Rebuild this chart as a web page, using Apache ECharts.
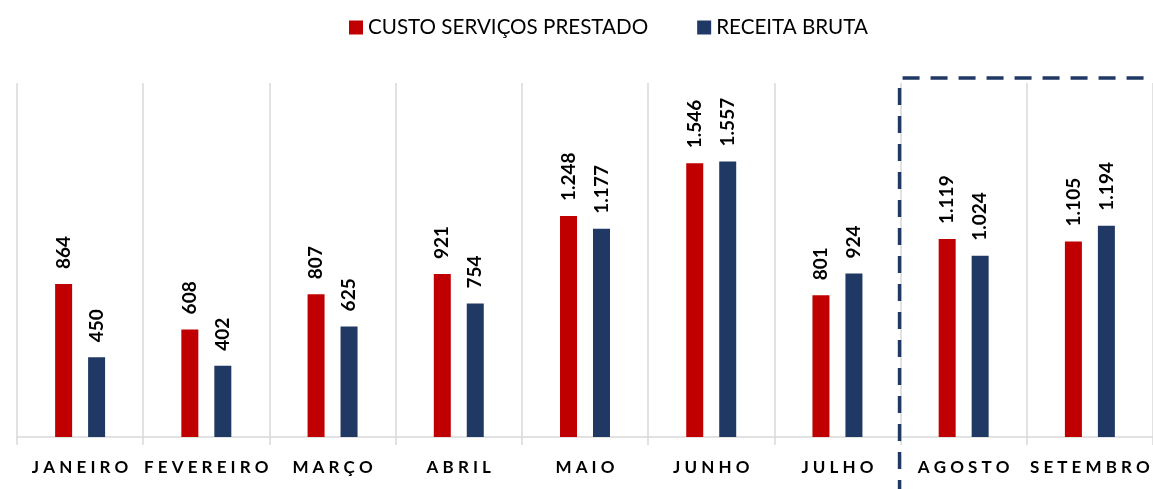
<!DOCTYPE html>
<html>
<head>
<meta charset="utf-8">
<script src="https://cdn.jsdelivr.net/npm/echarts@6/dist/echarts.min.js"></script>
<style>
  html, body { margin: 0; padding: 0; background: #fff; }
  #chart { width: 1153px; height: 489px; }
</style>
</head>
<body>
<div id="chart"></div>
<script>
const months = ['JANEIRO', 'FEVEREIRO', 'MARÇO', 'ABRIL', 'MAIO', 'JUNHO', 'JULHO', 'AGOSTO', 'SETEMBRO']
const custo = [864, 608, 807, 921, 1248, 1546, 801, 1119, 1105]
const receita = [450, 402, 625, 754, 1177, 1557, 924, 1024, 1194]
const yMax = 2000

const RED = '#c00000'
const NAVY = '#203864'
const GRID = '#d9d9d9'

// 1.248 style thousands separator
function fmt(v) {
  return String(v).replace(/\B(?=(\d{3})+(?!\d))/g, '.')
}

const chart = echarts.init(document.getElementById('chart'))

const labelStyle = {
  show: true,
  position: 'top',
  rotate: 90,
  align: 'left',
  verticalAlign: 'middle',
  distance: 15,
  fontFamily: 'Lato',
  fontWeight: 'bold',
  fontSize: 19,
  color: '#000',
  formatter: p => fmt(p.value)
}

chart.setOption({
  animation: false,
  color: [RED, NAVY],
  textStyle: { fontFamily: 'Lato' },
  legend: {
    top: 12,
    left: 344,
    itemWidth: 14,
    itemHeight: 14,
    itemGap: 49,
    icon: 'rect',
    textStyle: { fontSize: 20.6, color: '#000', fontFamily: 'Lato' }
  },
  grid: {
    left: 17,
    right: 0,
    top: 83,
    bottom: 52
  },
  xAxis: {
    type: 'category',
    data: months,
    axisLine: { lineStyle: { color: GRID, width: 1.5 } },
    axisTick: { show: true, interval: 0, length: 8, lineStyle: { color: GRID, width: 1.5 } },
    splitLine: { show: true, interval: 0, lineStyle: { color: GRID, width: 1.5 } },
    axisLabel: {
      interval: 0,
      margin: 22,
      fontFamily: 'Lato',
      fontWeight: 'bold',
      fontSize: 17,
      color: '#000',
      formatter: v => v.split('').join(' ')
    }
  },
  yAxis: {
    type: 'value',
    min: 0,
    max: yMax,
    show: false,
    splitLine: { show: false }
  },
  series: [
    {
      name: 'CUSTO SERVIÇOS PRESTADO',
      type: 'bar',
      data: custo,
      barWidth: 17,
      barGap: '94%',
      label: labelStyle
    },
    {
      name: 'RECEITA BRUTA',
      type: 'bar',
      data: receita,
      barWidth: 17,
      label: labelStyle
    }
  ]
})

// dashed box around the last months
const band = (chart.convertToPixel({ xAxisIndex: 0 }, 'AGOSTO') - chart.convertToPixel({ xAxisIndex: 0 }, 'JULHO'))
const boxX = chart.convertToPixel({ xAxisIndex: 0 }, 'AGOSTO') - band / 2
const boxTop = 78
const dash = { stroke: NAVY, lineWidth: 3.5, lineDash: [17, 11] }

chart.setOption({
  graphic: [
    {
      type: 'line',
      shape: { x1: boxX + 2, y1: boxTop, x2: chart.getWidth() + 10, y2: boxTop },
      style: dash,
      z: 10
    },
    {
      type: 'line',
      shape: { x1: boxX - 1, y1: boxTop + 10, x2: boxX - 1, y2: chart.getHeight() },
      style: dash,
      z: 10
    }
  ]
})
</script>
</body>
</html>
